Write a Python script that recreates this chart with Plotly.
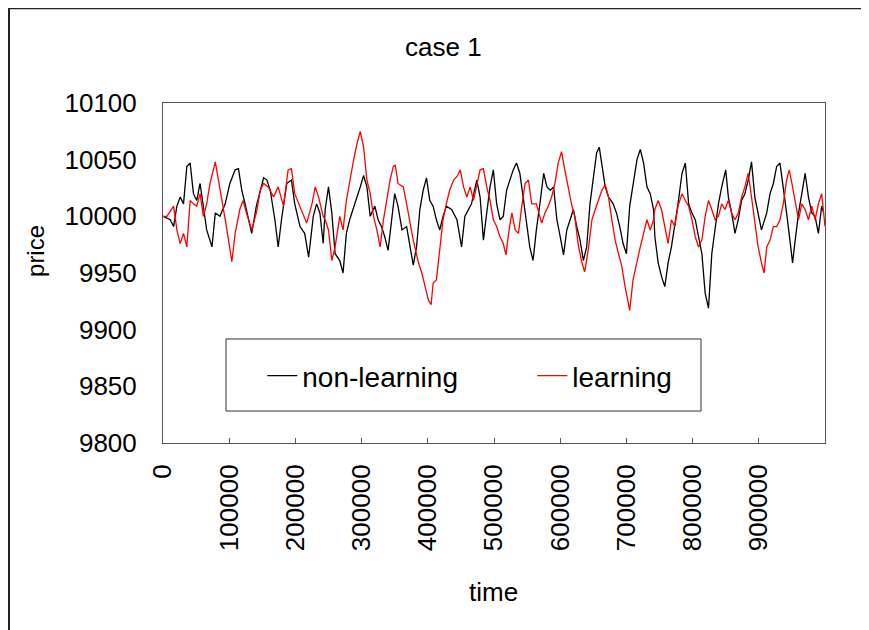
import plotly.graph_objects as go

# ---- data (time, price) ----
nl_time = [0, 11000, 16000, 21000, 26000, 31000, 36000, 41000, 46000, 51000, 56000, 61000, 66000, 74000, 79000,
           86000, 94000, 101000, 109000, 114000, 119000, 124000, 129000, 134000, 141000, 147000, 152000, 157000,
           162000, 169000, 174000, 179000, 187000, 194000, 199000, 207000, 214000, 220000, 227000, 232000, 237000,
           242000,
           245000, 250000, 255000, 260000, 267000, 272000, 277000, 282000, 288000, 293000, 298000, 303000, 308000,
           313000, 320000, 325000, 330000, 335000, 340000, 345000, 350000, 355000, 361000, 368000, 373000, 378000,
           383000, 388000, 393000, 398000, 403000, 408000, 413000, 418000, 423000, 428000, 436000, 444000, 451000,
           456000, 466000, 474000, 479000, 484000, 489000, 494000,
           499000, 504000, 509000, 514000, 519000, 524000, 529000, 534000, 539000, 544000, 549000, 554000, 559000,
           564000, 570000, 575000, 580000, 585000, 590000, 595000, 600000, 605000, 610000, 615000, 620000, 625000,
           630000, 635000, 640000, 645000, 650000, 655000, 659000, 663000, 668000, 673000, 680000, 685000, 690000,
           695000, 700000, 705000, 710000, 716000, 721000, 726000, 731000, 736000, 741000,
           743000, 748000, 753000, 758000, 763000, 768000, 773000, 778000, 784000, 789000, 794000, 799000, 804000,
           809000, 814000, 819000, 824000, 829000, 834000, 839000, 844000, 850000, 854000, 859000, 864000, 869000,
           874000, 879000, 884000, 889000, 894000, 899000, 904000, 912000, 917000, 922000, 927000, 932000, 937000,
           942000, 947000, 951000, 955000, 960000, 965000, 970000, 975000, 980000, 985000, 990000, 995000, 998000]
nl_price = [10000, 9997, 9991, 10009, 10017, 10011, 10044, 10047, 10020, 10014, 10029, 10006, 9988, 9973, 10003,
            10000, 10011, 10029, 10041, 10042, 10023, 10011, 9997, 9985, 10009, 10023, 10034, 10032,
            10023, 9997, 9973, 9997, 10029, 10032, 10011, 9991, 9985, 9964, 10000, 10011, 10003,
            9976,
            10006, 10026, 10003, 9967, 9961, 9950, 9985, 9997, 10009, 10017, 10026, 10036, 10026,
            10000, 10009, 9997, 9991, 9982, 9970, 9997, 10020, 10009, 9988, 9991, 9973, 9957,
            9973, 10006, 10023, 10034, 10014, 10009, 9997, 9988, 10000, 10009, 10006, 9997, 9973,
            10000, 10011, 10032, 10017, 9979, 10003, 10026,
            10041, 10011, 9997, 10000, 10023, 10032, 10041, 10047, 10038, 10017, 9997, 9973, 9961,
            9988, 10014, 10038, 10026, 10023, 10026, 9997, 9982, 9966, 9988, 9997, 10006, 9991,
            9979, 9961, 9973, 10011, 10035, 10056, 10061, 10047, 10026, 10017, 10011, 10003, 9991,
            9976, 9967, 10009, 10026, 10050, 10059, 10047, 10026, 10020, 10006,
            9982, 9959, 9947, 9938, 9959, 9973, 9991, 10011, 10038, 10047, 10011, 10003, 9997,
            9982, 9967, 9932, 9919, 9967, 9988, 10011, 10026, 10041, 10017, 10003, 9985, 9997,
            10014, 10020, 10032, 10048, 10017, 10003, 9988, 10003, 10020, 10029, 10044, 10047, 10026,
            10003, 9979, 9959, 9979, 10003, 10020, 10038, 10017, 10003, 10000, 9985, 10009, 10003]

l_time = [0, 6000, 16000, 21000, 26000, 31000, 36000, 41000, 46000, 51000, 56000, 61000, 66000, 71000, 79000,
          84000, 89000, 94000, 99000, 104000, 109000, 116000, 121000, 126000, 134000, 141000, 147000, 152000,
          159000, 167000, 174000, 182000, 189000, 194000, 199000, 207000, 217000, 225000, 230000, 235000, 242000,
          245000, 250000, 255000, 260000, 267000, 272000, 277000, 282000, 288000, 293000, 298000, 303000, 308000,
          313000, 318000, 323000, 328000, 333000, 338000, 343000, 348000, 351000, 355000, 363000, 368000, 373000,
          378000, 386000, 391000, 396000, 401000, 405000, 408000, 413000, 418000, 423000, 428000, 433000, 439000,
          444000, 449000, 454000, 459000, 464000, 469000, 474000, 479000, 484000, 489000,
          494000, 499000, 504000, 509000, 514000, 518000, 522000, 527000, 532000, 537000, 542000, 547000, 552000,
          557000, 564000, 572000, 577000, 582000, 587000, 592000, 597000, 602000, 607000, 612000, 617000, 622000,
          627000, 632000, 637000, 643000, 648000, 653000, 658000, 663000, 668000, 673000, 678000, 683000, 688000,
          693000, 698000, 703000, 705000, 710000, 716000, 721000, 726000, 731000, 736000, 741000,
          743000, 748000, 753000, 758000, 763000, 768000, 773000, 778000, 784000, 789000, 794000, 799000, 804000,
          809000, 814000, 819000, 824000, 829000, 834000, 839000, 844000, 849000, 854000, 859000, 864000, 869000,
          874000, 879000, 884000, 889000, 894000, 899000, 904000, 908000, 912000, 917000, 922000, 927000, 932000,
          937000, 942000, 946000, 951000, 955000, 960000, 965000, 970000, 975000, 980000, 985000, 990000, 995000,
          1000000]
l_price = [10000, 10000, 10009, 9988, 9976, 9985, 9973, 10014, 10011, 10009, 10020, 10000, 10011, 10029, 10048,
           10032, 10014, 9997, 9979, 9960, 9985, 10006, 10014, 10003, 9988, 10003, 10023, 10029,
           10026, 10017, 10026, 10009, 10041, 10042, 10020, 10009, 9994, 10011, 10026, 10017, 10000,
           9997, 9988, 9961, 9973, 10000, 9988, 10014, 10032, 10050, 10064, 10075, 10061, 10032,
           10020, 10000, 9988, 9973, 9997, 10014, 10032, 10044, 10045, 10029, 10026, 10011, 9994,
           9979, 9959, 9950, 9938, 9926, 9922, 9941, 9944, 9970, 9997, 10011, 10023, 10032,
           10035, 10041, 10026, 10017, 10026, 10014, 10029, 10041, 10042, 10026,
           10014, 9997, 9991, 9982, 9976, 9966, 9985, 10003, 9988, 9985, 10009, 10029, 10032,
           10011, 10011, 9994, 10003, 10009, 10017, 10029, 10047, 10057, 10041, 10026, 10011, 10000,
           9976, 9961, 9951, 9973, 9997, 10006, 10014, 10023, 10028, 10017, 9997, 9979, 9967,
           9956, 9938, 9923, 9917, 9944, 9961, 9973, 9985, 9997, 9988, 9997,
           10006, 10014, 10006, 9991, 9976, 9997, 9991, 10009, 10020, 10014, 10009, 9997, 9982,
           9973, 9979, 10000, 10014, 10006, 9997, 10000, 10011, 10006, 10014, 10003, 9997, 10003,
           10017, 10026, 10038, 10017, 9997, 9973, 9959, 9950, 9973, 9979, 9991, 9991, 9997,
           10011, 10032, 10041, 10026, 10014, 9997, 10011, 10006, 9997, 10009, 9997, 10011, 10020,
           9991]

x_ticks = [0, 100000, 200000, 300000, 400000, 500000, 600000, 700000, 800000, 900000]
y_ticks = [9800, 9850, 9900, 9950, 10000, 10050, 10100]

FONT = "Liberation Sans, Arial, sans-serif"

fig = go.Figure()
fig.add_trace(go.Scatter(x=nl_time, y=nl_price, mode="lines", name="non-learning",
                         line=dict(color="#000000", width=1.3)))
fig.add_trace(go.Scatter(x=l_time, y=l_price, mode="lines", name="learning",
                         line=dict(color="#ff0000", width=1.3)))

fig.update_layout(
    width=861, height=622,
    margin=dict(l=155, r=44, t=95, b=187),
    paper_bgcolor="white", plot_bgcolor="white",
    font=dict(family=FONT, size=26, color="#000000"),
    showlegend=True,
    legend=dict(orientation="h", x=0.15, y=0.197, xanchor="left", yanchor="middle",
                bgcolor="rgba(0,0,0,0)", borderwidth=0,
                font=dict(family=FONT, size=28),
                entrywidth=225, entrywidthmode="pixels", itemwidth=30),
    xaxis=dict(range=[0, 1000000], tickvals=x_ticks, ticktext=[str(v) for v in x_ticks],
               tickangle=-90, ticks="inside", ticklen=5, tickcolor="#555555",
               showgrid=False, zeroline=False, showline=True, linecolor="#555555", linewidth=1,
               mirror=True, tickfont=dict(size=26), ticklabelstandoff=10),
    yaxis=dict(range=[9800, 10100], tickvals=y_ticks, ticktext=[str(v) for v in y_ticks],
               ticks="", showgrid=False, zeroline=False,
               showline=True, linecolor="#555555", linewidth=1, mirror=True,
               tickfont=dict(size=26), ticklabelstandoff=20),
    shapes=[
        # outer chart border
        dict(type="rect", xref="paper", yref="paper", x0=-0.2326, x1=1.062, y0=-0.58, y1=1.279,
             line=dict(color="#222222", width=2), fillcolor="rgba(0,0,0,0)", layer="below"),
        # legend box
        dict(type="rect", xref="paper", yref="paper", x0=0.0952, x1=0.8127, y0=0.094, y1=0.306,
             line=dict(color="#333333", width=1), fillcolor="white", layer="above"),
    ],
    annotations=[
        dict(text="case 1", xref="paper", yref="paper", x=0.423, y=1.165, showarrow=False,
             font=dict(size=26), xanchor="center", yanchor="middle"),
        dict(text="price", xref="paper", yref="paper", x=-0.1934, y=0.5647, showarrow=False,
             textangle=-90, font=dict(size=24), xanchor="center", yanchor="middle"),
        dict(text="time", xref="paper", yref="paper", x=0.4985, y=-0.438, showarrow=False,
             font=dict(size=26), xanchor="center", yanchor="middle"),
    ],
)

fig.write_html("out.html")
